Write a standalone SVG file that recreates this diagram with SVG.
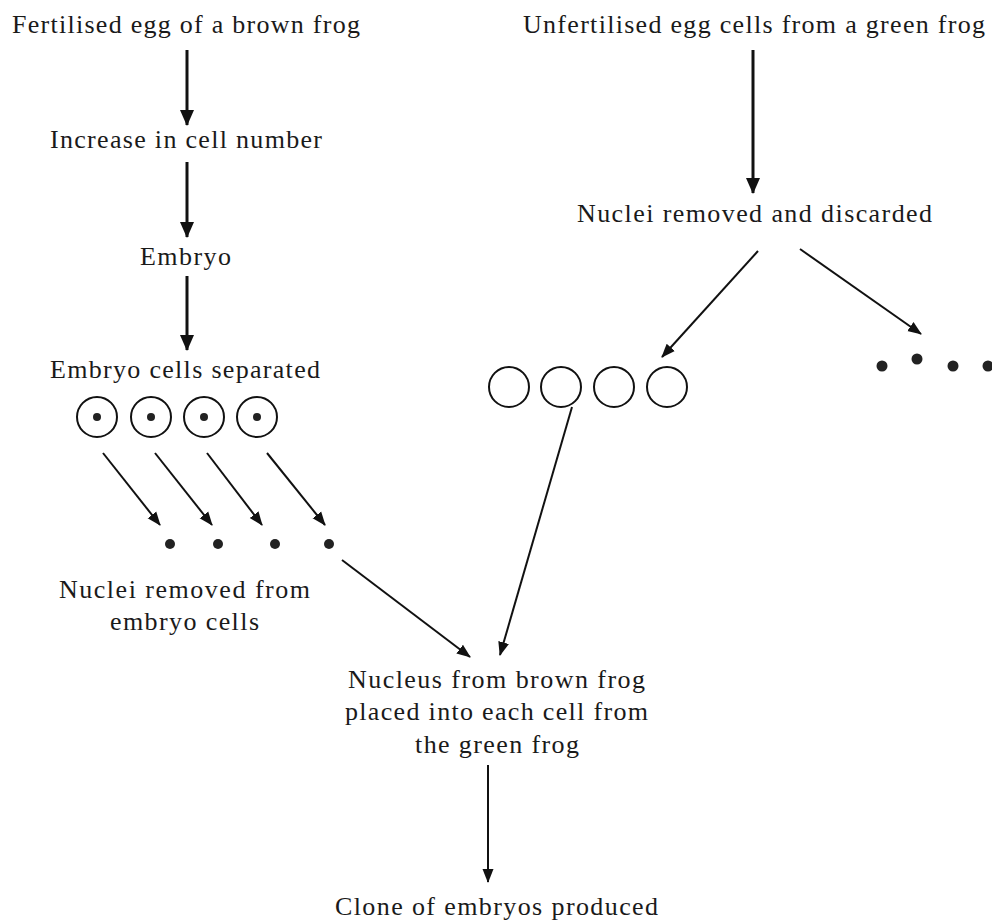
<svg xmlns="http://www.w3.org/2000/svg" width="992" height="924" viewBox="0 0 992 924">
<defs>
<style>
text{font-family:"Liberation Serif","Times New Roman",serif;font-size:26px;fill:#1a1a1a}
.thick{stroke:#111;stroke-width:3;fill:none}
.thin{stroke:#111;stroke-width:2;fill:none}
.cell{fill:#fff;stroke:#111;stroke-width:2}
.dot{fill:#222}
</style>
<marker id="ah" markerUnits="userSpaceOnUse" markerWidth="16" markerHeight="16" viewBox="0 0 16 16" refX="15" refY="8" orient="auto">
<path d="M0,1 L16,8 L0,15 Z" fill="#111"/>
</marker>
<marker id="as" markerUnits="userSpaceOnUse" markerWidth="14" markerHeight="14" viewBox="0 0 14 14" refX="13" refY="7" orient="auto">
<path d="M0,1.5 L14,7 L0,12.5 Z" fill="#111"/>
</marker>
</defs>
<rect width="992" height="924" fill="#fff"/>

<g id="connectors">
<line class="thick" x1="187" y1="50" x2="187" y2="125" marker-end="url(#ah)"/>
<line class="thick" x1="187" y1="162" x2="187" y2="237" marker-end="url(#ah)"/>
<line class="thick" x1="187" y1="276" x2="187" y2="350" marker-end="url(#ah)"/>
<line class="thick" x1="753" y1="50" x2="753" y2="193" marker-end="url(#ah)"/>
<line class="thin" x1="103" y1="453" x2="160" y2="525" marker-end="url(#as)"/>
<line class="thin" x1="155" y1="453" x2="212" y2="525" marker-end="url(#as)"/>
<line class="thin" x1="207" y1="453" x2="262" y2="525" marker-end="url(#as)"/>
<line class="thin" x1="267" y1="453" x2="325" y2="525" marker-end="url(#as)"/>
<line class="thin" x1="758" y1="251" x2="662" y2="357" marker-end="url(#as)"/>
<line class="thin" x1="800" y1="249" x2="921" y2="334" marker-end="url(#as)"/>
<line class="thin" x1="342" y1="560" x2="470" y2="657" marker-end="url(#as)"/>
<line class="thin" x1="572" y1="407" x2="500" y2="655" marker-end="url(#as)"/>
<line class="thin" x1="488" y1="765" x2="488" y2="882" marker-end="url(#as)"/>
</g>

<g id="fertilised-egg"><text x="12" y="33" textLength="348" lengthAdjust="spacing">Fertilised egg of a brown frog</text></g>
<g id="increase"><text x="50" y="148" textLength="272" lengthAdjust="spacing">Increase in cell number</text></g>
<g id="embryo"><text x="140" y="265" textLength="91" lengthAdjust="spacing">Embryo</text></g>
<g id="embryo-cells-separated"><text x="50" y="378" textLength="270" lengthAdjust="spacing">Embryo cells separated</text></g>

<g id="embryo-cells">
<circle class="cell" cx="97" cy="417" r="20"/><circle class="dot" cx="97" cy="417" r="4"/>
<circle class="cell" cx="151" cy="417" r="20"/><circle class="dot" cx="151" cy="417" r="4"/>
<circle class="cell" cx="204" cy="417" r="20"/><circle class="dot" cx="204" cy="417" r="4"/>
<circle class="cell" cx="257" cy="417" r="20"/><circle class="dot" cx="257" cy="417" r="4"/>
</g>

<g id="embryo-nuclei">
<circle class="dot" cx="170" cy="544" r="5"/>
<circle class="dot" cx="218" cy="544" r="5"/>
<circle class="dot" cx="275" cy="544" r="5"/>
<circle class="dot" cx="329" cy="544" r="5"/>
</g>

<g id="nuclei-removed-from-embryo">
<text x="59" y="598" textLength="251" lengthAdjust="spacing">Nuclei removed from</text>
<text x="110" y="630" textLength="149" lengthAdjust="spacing">embryo cells</text>
</g>

<g id="unfertilised-egg"><text x="523" y="33" textLength="462" lengthAdjust="spacing">Unfertilised egg cells from a green frog</text></g>
<g id="nuclei-discarded"><text x="577" y="222" textLength="355" lengthAdjust="spacing">Nuclei removed and discarded</text></g>

<g id="empty-cells">
<circle class="cell" cx="509" cy="387" r="20"/>
<circle class="cell" cx="561" cy="387" r="20"/>
<circle class="cell" cx="614" cy="387" r="20"/>
<circle class="cell" cx="667" cy="387" r="20"/>
</g>

<g id="discarded-nuclei">
<circle class="dot" cx="882" cy="366" r="5.5"/>
<circle class="dot" cx="917" cy="359" r="5.5"/>
<circle class="dot" cx="953" cy="366" r="5.5"/>
<circle class="dot" cx="988" cy="366" r="5.5"/>
</g>

<g id="nucleus-placed">
<text x="348" y="688" textLength="297" lengthAdjust="spacing">Nucleus from brown frog</text>
<text x="345" y="720" textLength="303" lengthAdjust="spacing">placed into each cell from</text>
<text x="415" y="753" textLength="164" lengthAdjust="spacing">the green frog</text>
</g>

<g id="clone"><text x="335" y="915" textLength="323" lengthAdjust="spacing">Clone of embryos produced</text></g>
</svg>
